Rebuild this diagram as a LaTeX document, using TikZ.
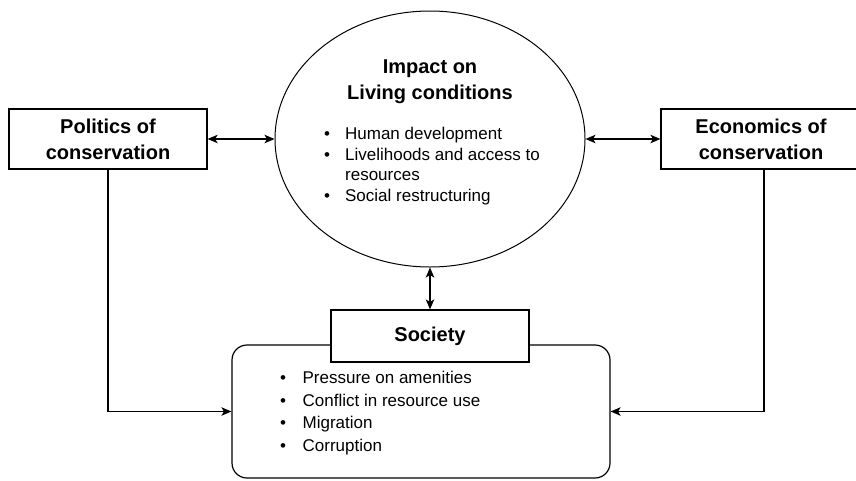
\documentclass[tikz,border=0pt]{standalone}
\usepackage{fontspec}
\setmainfont{Liberation Sans}
\usetikzlibrary{shapes.geometric,arrows.meta}
\newcommand{\headfont}{\fontsize{20}{26}\selectfont\bfseries}
\newcommand{\itemfont}{\fontsize{17}{20.7}\selectfont}
\newcommand{\lowfont}{\fontsize{17}{22.7}\selectfont}

\begin{document}
\begin{tikzpicture}[x=1pt,y=-1pt,>={Stealth[length=10pt,width=8.5pt,inset=2.5pt]},
  box/.style={draw,line width=1.2pt,fill=white,align=center,font=\headfont,inner sep=0pt},
  link/.style={<->,line width=1.2pt},
  feed/.style={->,line width=1.2pt}]
\useasboundingbox (0,0) rectangle (856,480);

% the three parts on top
\node[box,minimum width=198pt,minimum height=60pt] (politics) at (108,139) {Politics of\\conservation};
\node[box,minimum width=200pt,minimum height=60pt] (economics) at (761,139) {Economics of\\conservation};
\node[ellipse,draw,line width=1pt,minimum width=310pt,minimum height=256pt,inner sep=0pt] (impact) at (430,139) {};
\node[font=\headfont,align=center] (impacthead) at (430,81.5) {Impact on\\Living conditions};
\node[font=\itemfont,anchor=base west,inner sep=0pt] (impactlist) at (324,139.5)
  {\begin{tabular}[t]{@{}l@{\hspace{15pt}}l@{}}
   \textbullet & Human development\\
   \textbullet & Livelihoods and access to\\
               & resources\\
   \textbullet & Social restructuring
   \end{tabular}};

% society below
\node[draw,line width=1.2pt,rounded corners=15pt,minimum width=378pt,minimum height=133pt] (effects) at (421,411.5) {};
\node[box,minimum width=198pt,minimum height=52pt] (society) at (430,336) {Society};
\node[font=\lowfont,anchor=base west,inner sep=0pt] (effectslist) at (280,383.5)
  {\begin{tabular}[t]{@{}l@{\hspace{16.5pt}}l@{}}
   \textbullet & Pressure on amenities\\
   \textbullet & Conflict in resource use\\
   \textbullet & Migration\\
   \textbullet & Corruption
   \end{tabular}};

% links
\draw[link] (politics) -- (impact);
\draw[link] (impact) -- (economics);
\draw[link] (impact) -- (society);
\draw[feed] (politics.south) |- (effects.west);
\draw[feed] ([xshift=3pt]economics.south) |- (effects.east);
\end{tikzpicture}
\end{document}
